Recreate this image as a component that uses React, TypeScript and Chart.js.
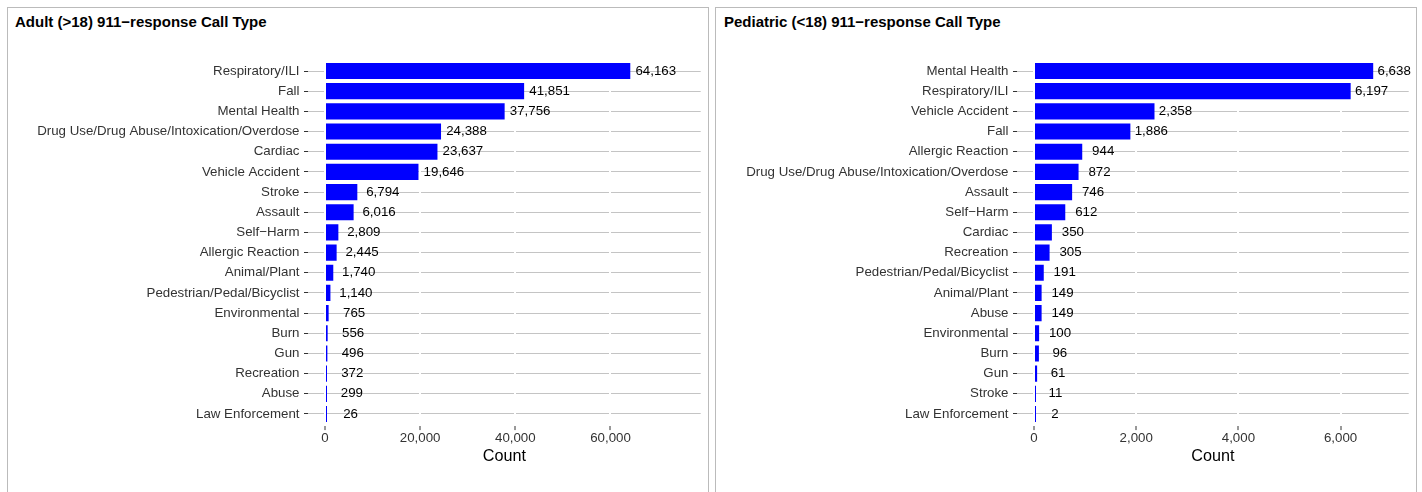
import React, { useEffect, useRef } from "react";
import { Chart, registerables } from "chart.js";

Chart.register(...registerables);

const FONT = "'Liberation Sans', Arial, Helvetica, sans-serif";

const adultCategories = [
  "Respiratory/ILI",
  "Fall",
  "Mental Health",
  "Drug Use/Drug Abuse/Intoxication/Overdose",
  "Cardiac",
  "Vehicle Accident",
  "Stroke",
  "Assault",
  "Self\u2212Harm",
  "Allergic Reaction",
  "Animal/Plant",
  "Pedestrian/Pedal/Bicyclist",
  "Environmental",
  "Burn",
  "Gun",
  "Recreation",
  "Abuse",
  "Law Enforcement",
];
const adultValues = [
  64163, 41851, 37756, 24388, 23637, 19646, 6794, 6016, 2809, 2445, 1740, 1140,
  765, 556, 496, 372, 299, 26,
];
const adultXTicks = [0, 20000, 40000, 60000];

const pediatricCategories = [
  "Mental Health",
  "Respiratory/ILI",
  "Vehicle Accident",
  "Fall",
  "Allergic Reaction",
  "Drug Use/Drug Abuse/Intoxication/Overdose",
  "Assault",
  "Self\u2212Harm",
  "Cardiac",
  "Recreation",
  "Pedestrian/Pedal/Bicyclist",
  "Animal/Plant",
  "Abuse",
  "Environmental",
  "Burn",
  "Gun",
  "Stroke",
  "Law Enforcement",
];
const pediatricValues = [
  6638, 6197, 2358, 1886, 944, 872, 746, 612, 350, 305, 191, 149, 149, 100, 96,
  61, 11, 2,
];
const pediatricXTicks = [0, 2000, 4000, 6000];

const PLOT_TOP = 58.9;
const PLOT_BOTTOM = 426.1;
const CANVAS_TOP = 8;
const CANVAS_H = 484;

type PanelProps = {
  title: string;
  categories: string[];
  values: number[];
  xTicks: number[];
  xMin: number;
  xMax: number;
  nudge: number;
  boxLeft: number;
  boxWidth: number;
  titleLeft: number;
  plotLeft: number;
  plotRight: number;
};

function BarPanel(p: PanelProps) {
  const ref = useRef<HTMLCanvasElement | null>(null);
  const canvasLeft = p.boxLeft + 1;
  const canvasW = p.boxWidth - 2;

  useEffect(() => {
    if (!ref.current) return;
    const fmt = (v: number) => Number(v).toLocaleString("en-US");
    const labelPlugin = {
      id: "valueLabels",
      afterDatasetsDraw(chart: any) {
        const ctx = chart.ctx;
        const meta = chart.getDatasetMeta(0);
        const xs = chart.scales.x;
        ctx.save();
        ctx.font = `13.3px ${FONT}`;
        ctx.fillStyle = "#000000";
        ctx.textAlign = "center";
        ctx.textBaseline = "middle";
        meta.data.forEach((el: any, i: number) => {
          const v = p.values[i];
          ctx.fillText(fmt(v), xs.getPixelForValue(v + p.nudge), el.y);
        });
        ctx.restore();
      },
    };

    const chart = new Chart(ref.current, {
      type: "bar",
      data: {
        datasets: [
          {
            data: p.values.map((v, i) => ({ x: v, y: i })),
            backgroundColor: "#0000ff",
            borderWidth: 0,
            barPercentage: 0.8,
            categoryPercentage: 1,
            minBarLength: 2,
            inflateAmount: 0,
          } as any,
        ],
      },
      options: {
        indexAxis: "y",
        animation: false,
        responsive: false,
        maintainAspectRatio: false,
        events: [],
        layout: {
          padding: {
            top: PLOT_TOP - CANVAS_TOP,
            right: canvasW - (p.plotRight - canvasLeft),
            bottom: 0,
            left: 0,
          },
        },
        plugins: {
          legend: { display: false },
          tooltip: { enabled: false },
          title: { display: false },
        },
        scales: {
          x: {
            type: "linear",
            position: "bottom",
            offset: false,
            min: p.xMin,
            max: p.xMax,
            bounds: "data",
            afterBuildTicks: (s: any) => {
              s.ticks = p.xTicks.map((v) => ({ value: v }));
            },
            afterFit: (s: any) => {
              s.height = CANVAS_H - (PLOT_BOTTOM - CANVAS_TOP);
            },
            grid: {
              offset: false,
              color: "#ffffff",
              lineWidth: 2,
              drawTicks: true,
              tickLength: 4,
              tickColor: "#333333",
              tickWidth: 1,
              z: -1,
            },
            border: { display: false },
            ticks: {
              autoSkip: false,
              maxRotation: 0,
              padding: 0,
              color: "#333333",
              font: { size: 13.3, family: FONT },
              callback: (v: any) => fmt(v),
            },
            title: {
              display: true,
              text: "Count",
              color: "#000000",
              font: { size: 16.2, family: FONT },
              padding: { top: 0, bottom: 26 },
            },
          } as any,
          y: {
            type: "linear",
            reverse: true,
            offset: false,
            min: -0.6,
            max: p.categories.length - 0.4,
            bounds: "data",
            afterBuildTicks: (s: any) => {
              s.ticks = p.categories.map((_, i) => ({ value: i }));
            },
            afterFit: (s: any) => {
              s.width = p.plotLeft - canvasLeft;
            },
            grid: {
              offset: false,
              color: "#c4c4c4",
              lineWidth: 1,
              drawTicks: true,
              tickLength: 4,
              tickColor: "#333333",
              tickWidth: 1,
              z: -2,
            },
            border: { display: false },
            ticks: {
              autoSkip: false,
              padding: 4.5,
              color: "#333333",
              font: { size: 13.3, family: FONT },
              callback: (v: any) => p.categories[Number(v)] ?? "",
            },
          } as any,
        },
      },
      plugins: [labelPlugin],
    });
    return () => chart.destroy();
  }, []);

  return (
    <>
      <div
        style={{
          position: "absolute",
          left: p.boxLeft,
          top: 7,
          width: p.boxWidth,
          height: 600,
          border: "1px solid #bbbbbb",
          boxSizing: "border-box",
        }}
      />
      <div
        style={{
          position: "absolute",
          left: p.titleLeft,
          top: 14,
          font: `bold 15px ${FONT}`,
          lineHeight: "15px",
          color: "#000000",
          whiteSpace: "nowrap",
        }}
      >
        {p.title}
      </div>
      <canvas
        ref={ref}
        width={canvasW}
        height={CANVAS_H}
        style={{
          position: "absolute",
          left: canvasLeft,
          top: CANVAS_TOP,
          width: canvasW,
          height: CANVAS_H,
          display: "block",
        }}
      />
    </>
  );
}

export default function App() {
  return (
    <div
      style={{
        position: "fixed",
        left: 0,
        top: 0,
        width: 1422,
        height: 492,
        overflow: "hidden",
        background: "#ffffff",
      }}
    >
      <BarPanel
        title={"Adult (>18) 911\u2212response Call Type"}
        categories={adultCategories}
        values={adultValues}
        xTicks={adultXTicks}
        xMin={-3573}
        xMax={78962}
        nudge={5350}
        boxLeft={7}
        boxWidth={702}
        titleLeft={15}
        plotLeft={308}
        plotRight={700.7}
      />
      <BarPanel
        title={"Pediatric (<18) 911\u2212response Call Type"}
        categories={pediatricCategories}
        values={pediatricValues}
        xTicks={pediatricXTicks}
        xMin={-332.7}
        xMax={7332.7}
        nudge={410}
        boxLeft={715}
        boxWidth={702}
        titleLeft={724}
        plotLeft={1017}
        plotRight={1408.7}
      />
    </div>
  );
}
